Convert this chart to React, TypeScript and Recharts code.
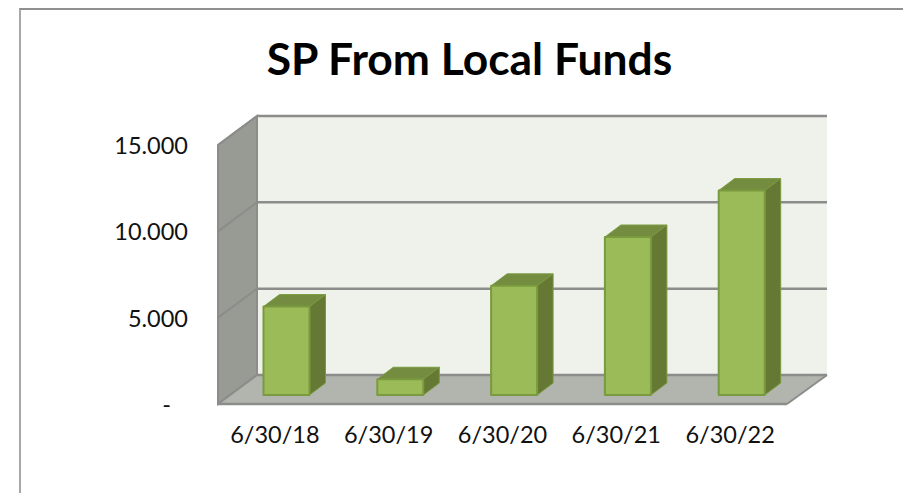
import React from 'react'
import { BarChart, Bar, XAxis, YAxis, CartesianGrid } from 'recharts'

const categories = ['6/30/18', '6/30/19', '6/30/20', '6/30/21', '6/30/22']
const spValues = [5120, 910, 6320, 9150, 11840]
const yTicks = [0, 5000, 10000, 15000]

const data = categories.map((date, i) => ({ date, value: spValues[i] }))

const WIDTH = 903
const HEIGHT = 493
const PLOT_LEFT = 218
const PLOT_RIGHT = 787
const PLOT_TOP = 145
const PLOT_BOTTOM = 404
// how far the back wall sits from the front plane
const DEPTH_X = 39
const DEPTH_Y = 29
const GRID_COLOR = '#8c8d8a'
const FONT = 'Lato, "Open Sans", sans-serif'

const formatTick = (v: number) => (v === 0 ? '-' : v.toLocaleString('de-DE'))

// side wall, back wall and floor of the 3D box, in an svg behind the chart
const Walls = () => {
  const l = PLOT_LEFT
  const r = PLOT_RIGHT
  const t = PLOT_TOP
  const b = PLOT_BOTTOM
  const pts = (arr: number[][]) => arr.map((p) => p.join(',')).join(' ')
  return (
    <svg width={WIDTH} height={HEIGHT} style={{ position: 'absolute', left: 0, top: 0 }}>
      <polygon
        points={pts([[l + DEPTH_X, t - DEPTH_Y], [r + DEPTH_X + 1, t - DEPTH_Y], [r + DEPTH_X + 1, b - DEPTH_Y], [l + DEPTH_X, b - DEPTH_Y]])}
        fill="#eff1eb"
      />
      <polygon
        points={pts([[l, t], [l + DEPTH_X, t - DEPTH_Y], [l + DEPTH_X, b - DEPTH_Y], [l, b]])}
        fill="#989a94"
        stroke={GRID_COLOR}
        strokeWidth={2}
      />
      <polygon
        points={pts([[l, b], [r, b], [r + DEPTH_X + 1, b - DEPTH_Y], [l + DEPTH_X, b - DEPTH_Y]])}
        fill="#b2b4ae"
      />
      <line x1={l} y1={b} x2={r} y2={b} stroke={GRID_COLOR} strokeWidth={2.5} />
      <line x1={r} y1={b} x2={r + DEPTH_X + 1} y2={b - DEPTH_Y} stroke={GRID_COLOR} strokeWidth={2} />
    </svg>
  )
}

const renderGridLine = (props: any) => {
  const { x1, x2, y1, key } = props
  return (
    <g key={key}>
      <line x1={x1} y1={y1} x2={x1 + DEPTH_X} y2={y1 - DEPTH_Y} stroke={GRID_COLOR} strokeWidth={2} />
      <line x1={x1 + DEPTH_X} y1={y1 - DEPTH_Y} x2={x2 + DEPTH_X + 1} y2={y1 - DEPTH_Y} stroke={GRID_COLOR} strokeWidth={2.5} />
    </g>
  )
}

// a bar standing in the middle of the box depth, with top and side faces
const Bar3D = (props: any) => {
  const { x, y, width, height } = props
  const dx = 16
  const dy = 12
  const fx = x + 11.5
  const fy = y - 9
  const fr = fx + width
  const fb = fy + height
  const edge = '#7a9a3f'
  return (
    <g strokeLinejoin="round">
      <polygon points={`${fx},${fy} ${fx + dx},${fy - dy} ${fr + dx},${fy - dy} ${fr},${fy}`} fill="#738c3f" stroke={edge} strokeWidth={1} />
      <polygon points={`${fr},${fy} ${fr + dx},${fy - dy} ${fr + dx},${fb - dy} ${fr},${fb}`} fill="#657834" stroke={edge} strokeWidth={1} />
      <rect x={fx} y={fy} width={width} height={height} fill="#9bbb59" stroke={edge} strokeWidth={2} />
    </g>
  )
}

const YTick = (props: any) => {
  const { x, y, payload } = props
  const isZero = payload.value === 0
  return (
    <text x={isZero ? 171 : x} y={y} dy={9} textAnchor="end" fontSize={23.5} fontFamily={FONT} fill="#111">
      {formatTick(payload.value)}
    </text>
  )
}

const XTick = (props: any) => {
  const { x, y, payload } = props
  return (
    <text x={x} y={y} dy={18} textAnchor="middle" fontSize={23.5} fontFamily={FONT} fill="#111">
      {payload.value}
    </text>
  )
}

export default function App() {
  return (
    <div style={{ position: 'absolute', left: 0, top: 0, width: WIDTH, height: HEIGHT, background: '#fff', overflow: 'hidden' }}>
      <div
        style={{
          position: 'absolute',
          left: 19,
          top: 8,
          width: WIDTH,
          height: HEIGHT,
          borderTop: '2px solid #8f8f8f',
          borderLeft: '2px solid #a8a8a8',
        }}
      />
      <Walls />
      <BarChart
        width={WIDTH}
        height={HEIGHT}
        data={data}
        margin={{ top: PLOT_TOP, right: WIDTH - PLOT_RIGHT, bottom: HEIGHT - PLOT_BOTTOM - 40, left: 0 }}
        style={{ position: 'absolute', left: 0, top: 0 }}
      >
        <text x={469.5} y={75} textAnchor="middle" fontSize={44.4} fontWeight={700} fontFamily={FONT} fill="#000">
          SP From Local Funds
        </text>
        <CartesianGrid horizontal={renderGridLine} vertical={false} />
        <XAxis
          dataKey="date"
          height={40}
          axisLine={false}
          tickLine={false}
          tickMargin={15}
          tick={<XTick />}
          interval={0}
        />
        <YAxis
          width={PLOT_LEFT}
          domain={[0, 15000]}
          ticks={yTicks}
          axisLine={false}
          tickLine={false}
          tick={<YTick />}
          tickMargin={24}
        />
        <Bar dataKey="value" barSize={46} shape={<Bar3D />} isAnimationActive={false} />
      </BarChart>
    </div>
  )
}
